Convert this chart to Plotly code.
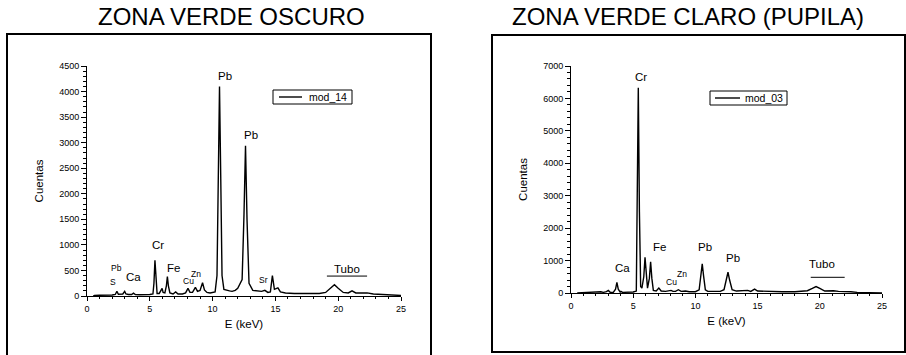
import plotly.graph_objects as go

# ---------------- data: left spectrum (ZONA VERDE OSCURO, mod_14) ----------------
e_14 = [0.5, 0.6, 1.0, 1.5, 2.0, 2.25, 2.38, 2.5, 2.7, 2.85, 3.0, 3.1, 3.3, 3.55, 3.7, 3.85,
        4.2, 4.6, 5.0, 5.25, 5.33, 5.41, 5.49, 5.58, 5.75, 5.9, 5.98, 6.06, 6.2, 6.32, 6.40,
        6.48, 6.6, 6.85, 7.06, 7.25, 7.6, 7.85, 8.04, 8.2, 8.4, 8.63, 8.8, 9.0, 9.2, 9.35,
        9.55, 9.8, 10.0, 10.2, 10.35, 10.45, 10.55, 10.65, 10.75, 10.9, 11.1, 11.35, 11.55,
        11.8, 12.0, 12.2, 12.35, 12.5, 12.62, 12.74, 12.9, 13.2, 13.5, 13.9, 14.16, 14.4,
        14.6, 14.76, 14.92, 15.2, 15.4, 15.8, 16.5, 17.5, 18.5, 19.0, 19.4, 19.7, 20.0,
        20.4, 20.8, 21.1, 21.4, 22.0, 22.3, 22.8, 23.5, 24.5, 25.0]
c_14 = [0, 10, 15, 15, 20, 30, 90, 35, 30, 40, 90, 40, 30, 30, 55, 30,
        25, 25, 30, 40, 250, 700, 250, 50, 50, 130, 150, 70, 60, 200, 380,
        200, 60, 40, 80, 40, 40, 60, 150, 70, 70, 170, 90, 110, 260, 120,
        70, 60, 70, 80, 400, 2300, 4100, 2300, 400, 130, 110, 100, 90,
        110, 150, 250, 320, 1600, 2940, 1500, 250, 110, 100, 90, 110, 70,
        80, 400, 130, 160, 80, 60, 50, 45, 50, 70, 150, 220, 150,
        70, 60, 100, 60, 60, 60, 40, 30, 20, 10]

# ---------------- data: right spectrum (ZONA VERDE CLARO, mod_03) ----------------
e_03 = [0.5, 1.0, 1.5, 2.0, 2.4, 2.6, 2.85, 3.0, 3.15, 3.4, 3.58, 3.69, 3.8, 3.95, 4.01,
        4.15, 4.5, 5.0, 5.25, 5.32, 5.41, 5.50, 5.6, 5.7, 5.85, 5.95, 6.05, 6.15, 6.3, 6.4,
        6.5, 6.62, 6.85, 7.06, 7.25, 7.6, 8.04, 8.2, 8.4, 8.63, 8.85, 9.2, 9.5, 10.0, 10.3,
        10.45, 10.55, 10.65, 10.8, 11.0, 11.5, 12.0, 12.3, 12.5, 12.62, 12.75, 12.95, 13.3,
        14.0, 14.2, 14.45, 14.76, 15.0, 15.5, 16.0, 17.0, 18.0, 19.0, 19.4, 19.7, 20.0,
        20.4, 21.1, 21.5, 22.5, 23.0, 25.0]
c_03 = [0, 10, 15, 15, 40, 20, 40, 80, 20, 20, 120, 330, 120, 30, 50,
        20, 20, 30, 60, 2500, 6330, 2500, 200, 150, 500, 1100, 500, 150, 450, 960,
        450, 80, 60, 150, 60, 50, 80, 50, 50, 100, 50, 60, 40, 40, 100,
        550, 900, 550, 100, 50, 50, 50, 100, 400, 640, 400, 100, 60,
        60, 80, 50, 120, 60, 50, 50, 40, 40, 70, 140, 200, 140,
        60, 70, 50, 40, 20, 0]

# ---------------- peak labels ----------------
lab_14_text = ["Pb", "Pb", "Cr", "Fe", "Ca", "Pb", "S", "Cu", "Zn", "Sr", "Tubo"]
lab_14_x = [11.0, 13.05, 5.66, 6.85, 3.74, 2.31, 2.07, 8.05, 8.68, 14.09, 20.7]
lab_14_y = [4305, 3150, 1000, 550, 370, 550, 275, 290, 425, 310, 530]
lab_14_big = [True, True, True, True, True, False, False, False, False, False, True]
tubo_14_x = [19.1, 22.3]
tubo_14_y = [390, 390]

lab_03_text = ["Cr", "Fe", "Pb", "Pb", "Ca", "Cu", "Zn", "Tubo"]
lab_03_x = [5.6, 7.1, 10.75, 13.05, 4.12, 8.04, 8.9, 20.2]
lab_03_y = [6660, 1418, 1418, 1080, 770, 340, 580, 895]
lab_03_big = [True, True, True, True, True, False, False, True]
tubo_03_x = [19.27, 22.0]
tubo_03_y = [484, 484]

titles = ["ZONA VERDE OSCURO", "ZONA VERDE CLARO (PUPILA)"]
series_names = ["mod_14", "mod_03"]
x_title = "E (keV)"
y_title = "Cuentas"

W, H = 906, 355
FONT = "Arial, 'Liberation Sans', sans-serif"


def px(x):
    return x / W


def py(y):
    return 1 - y / H


fig = go.Figure()

fig.add_trace(go.Scatter(x=e_14, y=c_14, mode="lines", name=series_names[0],
                         line=dict(color="black", width=1.4),
                         xaxis="x", yaxis="y", showlegend=False))
fig.add_trace(go.Scatter(x=tubo_14_x, y=tubo_14_y, mode="lines", showlegend=False,
                         line=dict(color="black", width=1), xaxis="x", yaxis="y",
                         hoverinfo="skip"))
fig.add_trace(go.Scatter(x=e_03, y=c_03, mode="lines", name=series_names[1],
                         line=dict(color="black", width=1.4),
                         xaxis="x2", yaxis="y2", showlegend=False))
fig.add_trace(go.Scatter(x=tubo_03_x, y=tubo_03_y, mode="lines", showlegend=False,
                         line=dict(color="black", width=1), xaxis="x2", yaxis="y2",
                         hoverinfo="skip"))

annotations = []
for t, x, y, big in zip(lab_14_text, lab_14_x, lab_14_y, lab_14_big):
    annotations.append(dict(text=t, x=x, y=y, xref="x", yref="y", showarrow=False,
                            xanchor="center", yanchor="middle",
                            font=dict(size=11.5 if big else 8.5, color="black", family=FONT)))
for t, x, y, big in zip(lab_03_text, lab_03_x, lab_03_y, lab_03_big):
    annotations.append(dict(text=t, x=x, y=y, xref="x2", yref="y2", showarrow=False,
                            xanchor="center", yanchor="middle",
                            font=dict(size=11.5 if big else 8.5, color="black", family=FONT)))
annotations.append(dict(text=titles[0], x=px(232), y=py(16), xref="paper", yref="paper",
                        xanchor="center", yanchor="middle",
                        showarrow=False, font=dict(size=24, color="black", family=FONT)))
annotations.append(dict(text=titles[1], x=px(688), y=py(16), xref="paper", yref="paper",
                        xanchor="center", yanchor="middle",
                        showarrow=False, font=dict(size=24, color="black", family=FONT)))
# legend texts
annotations.append(dict(text=series_names[0], x=px(307), y=py(97), xref="paper", yref="paper",
                        xanchor="left", yanchor="middle", showarrow=False,
                        font=dict(size=10.5, color="black", family=FONT)))
annotations.append(dict(text=series_names[1], x=px(743), y=py(98), xref="paper", yref="paper",
                        xanchor="left", yanchor="middle", showarrow=False,
                        font=dict(size=10.5, color="black", family=FONT)))

shapes = [
    dict(type="rect", xref="paper", yref="paper", x0=px(7), x1=px(431), y0=-0.05, y1=py(34),
         line=dict(color="black", width=2)),
    dict(type="rect", xref="paper", yref="paper", x0=px(492), x1=px(905), y0=py(352), y1=py(35),
         line=dict(color="black", width=2)),
    # legend boxes and sample lines
    dict(type="rect", xref="paper", yref="paper", x0=px(273), x1=px(352), y0=py(104), y1=py(90),
         line=dict(color="black", width=1), fillcolor="white"),
    dict(type="line", xref="paper", yref="paper", x0=px(279), x1=px(302), y0=py(97), y1=py(97),
         line=dict(color="black", width=1.4)),
    dict(type="rect", xref="paper", yref="paper", x0=px(710), x1=px(787), y0=py(105), y1=py(91),
         line=dict(color="black", width=1), fillcolor="white"),
    dict(type="line", xref="paper", yref="paper", x0=px(715), x1=px(740), y0=py(98), y1=py(98),
         line=dict(color="black", width=1.4)),
]

axis_common = dict(showline=True, linecolor="black", linewidth=1, showgrid=False,
                   zeroline=False, ticks="outside", tickwidth=1, automargin=False,
                   tickcolor="black", tickfont=dict(size=9, color="black", family=FONT))

fig.update_layout(
    width=W, height=H, margin=dict(l=0, r=0, t=0, b=0, pad=0, autoexpand=False),
    paper_bgcolor="white", plot_bgcolor="white", showlegend=False,
    font=dict(family=FONT, color="black"),
    xaxis=dict(domain=[px(87), px(401)], range=[0, 25], dtick=5, anchor="y", ticklen=4,
               minor=dict(dtick=1, ticks="outside", ticklen=2, tickcolor="black"),
               title=dict(text=x_title, font=dict(size=11.5), standoff=7), **axis_common),
    yaxis=dict(domain=[py(296), py(66)], range=[0, 4500], dtick=500, anchor="x", ticklen=5,
               minor=dict(dtick=100, ticks="outside", ticklen=3, tickcolor="black"),
               title=dict(text=y_title, font=dict(size=11.5), standoff=13), **axis_common),
    xaxis2=dict(domain=[px(571), px(882)], range=[0, 25], dtick=5, anchor="y2", ticklen=4,
                minor=dict(dtick=1, ticks="outside", ticklen=2, tickcolor="black"),
                title=dict(text=x_title, font=dict(size=11.5), standoff=7), **axis_common),
    yaxis2=dict(domain=[py(293), py(66)], range=[0, 7000], dtick=1000, anchor="x2", ticklen=5,
                minor=dict(dtick=200, ticks="outside", ticklen=3, tickcolor="black"),
                title=dict(text=y_title, font=dict(size=11.5), standoff=13), **axis_common),
    annotations=annotations, shapes=shapes,
)

fig.write_html("out.html", config={"displayModeBar": False},
               post_script="document.body.style.margin='0';document.body.style.overflow='hidden';")
